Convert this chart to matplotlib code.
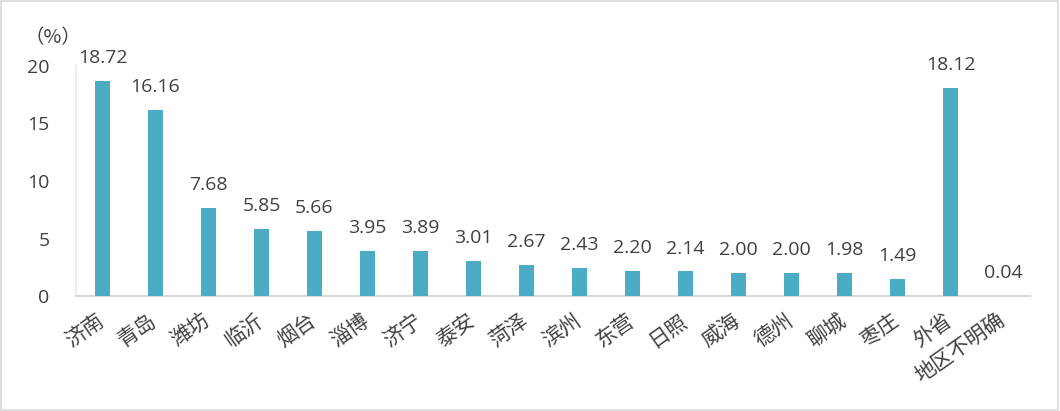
import matplotlib
matplotlib.use("Agg")
import matplotlib.pyplot as plt
from matplotlib.patches import Rectangle
from matplotlib.transforms import ScaledTranslation

categories = ["济南", "青岛", "潍坊", "临沂", "烟台", "淄博", "济宁", "泰安", "菏泽",
              "滨州", "东营", "日照", "威海", "德州", "聊城", "枣庄", "外省", "地区不明确"]
values = [18.72, 16.16, 7.68, 5.85, 5.66, 3.95, 3.89, 3.01, 2.67,
          2.43, 2.20, 2.14, 2.00, 2.00, 1.98, 1.49, 18.12, 0.04]
yticks = [0, 5, 10, 15, 20]

plt.rcParams['font.family'] = ['Open Sans', 'Noto Sans CJK SC', 'DejaVu Sans']

fig = plt.figure(figsize=(10.6, 4.11), dpi=100)
ax = fig.add_axes([76/1060, 1 - 296/411, (1030-76)/1060, (296-66)/411])

x = list(range(len(categories)))
ax.bar(x, values, width=0.3, color="#4BACC6", zorder=3)
ax.set_xlim(-0.5, len(categories) - 0.5)
ax.set_ylim(0, 20)
ax.set_yticks(yticks)
ax.set_yticklabels([str(t) for t in yticks], fontsize=14, color="#404040")
ax.tick_params(axis='y', length=0, pad=19)
ax.tick_params(axis='x', length=0, pad=6)
ax.set_xticks(x)
ax.set_xticklabels(categories, rotation=35, ha='right', rotation_mode='anchor',
                   fontsize=15, color="#404040",
                   family=['Noto Sans CJK SC', 'DejaVu Sans'], fontweight='light')
shift = ScaledTranslation(-7/100, -5/100, fig.dpi_scale_trans)
for lbl in ax.get_xticklabels():
    lbl.set_transform(lbl.get_transform() + shift)

for s in ['top', 'right']:
    ax.spines[s].set_visible(False)
ax.spines['left'].set_color("#EEEAE0")
ax.spines['left'].set_linewidth(1.2)
ax.spines['bottom'].set_color("#D9D9D9")
ax.spines['bottom'].set_linewidth(1.5)

for xi, v in zip(x, values):
    ax.annotate(f"{v:.2f}", (xi, v), xytext=(0, 10), textcoords='offset points',
                ha='center', va='bottom', fontsize=14, color="#404040")

fig.text(24/1060, 1 - 38/411, "（%）", fontsize=14, color="#404040",
         family=['Noto Sans CJK SC', 'DejaVu Sans'], ha='left', va='center')

fig.patches.append(Rectangle((0.001, 0.002), 0.997, 0.995, transform=fig.transFigure,
                             fill=False, edgecolor="#D9D9D9", linewidth=1.2))

fig.savefig("out.png", dpi=100)
